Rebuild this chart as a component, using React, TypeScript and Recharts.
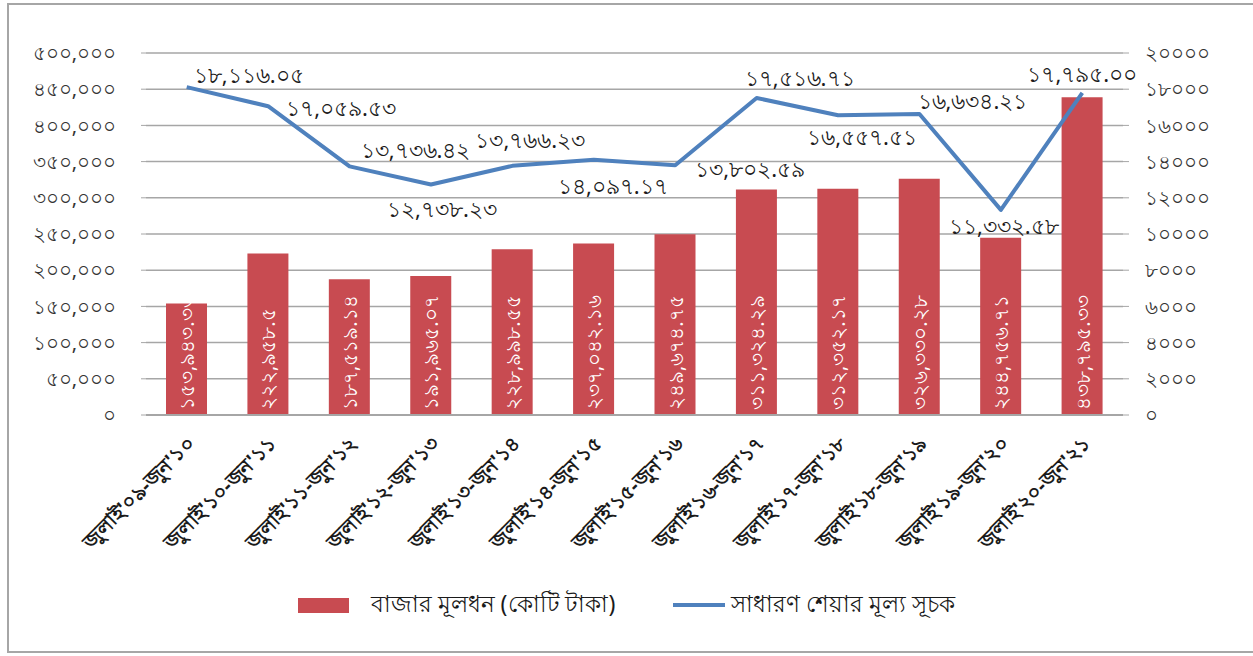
import {
  ComposedChart,
  Bar,
  Line,
  XAxis,
  YAxis,
  CartesianGrid,
  Legend,
  LabelList,
} from "recharts";

const categories = [
  "জুলাই'০৯-জুন'১০",
  "জুলাই'১০-জুন'১১",
  "জুলাই'১১-জুন'১২",
  "জুলাই'১২-জুন'১৩",
  "জুলাই'১৩-জুন'১৪",
  "জুলাই'১৪-জুন'১৫",
  "জুলাই'১৫-জুন'১৬",
  "জুলাই'১৬-জুন'১৭",
  "জুলাই'১৭-জুন'১৮",
  "জুলাই'১৮-জুন'১৯",
  "জুলাই'১৯-জুন'২০",
  "জুলাই'২০-জুন'২১",
];

// market capitalisation, crore taka (bars, left axis)
const marketCap = [
  153943.33, 222958.5, 187519.14, 191965.07, 228998.55, 237042.16,
  249674.75, 311324.29, 312352.17, 326330.28, 244756.71, 438795.33,
];

// general share price index (line, right axis)
const priceIndex = [
  18116.05, 17059.53, 13736.42, 12738.23, 13766.23, 14097.17, 13802.59,
  17516.71, 16557.51, 16634.21, 11332.58, 17795.0,
];

const leftTicks = [0, 50000, 100000, 150000, 200000, 250000, 300000, 350000, 400000, 450000, 500000];
const rightTicks = [0, 2000, 4000, 6000, 8000, 10000, 12000, 14000, 16000, 18000, 20000];

const barName = "বাজার মূলধন (কোটি টাকা)";
const lineName = "সাধারণ শেয়ার মূল্য সূচক";

// where each index label sits relative to its point
const lineLabelShift = [
  [62, -13], [73, 1], [66, -17], [11, 24], [18, -27], [19, 25],
  [75, 3], [43, -21], [24, 21], [53, -14], [3, 15], [0, -20],
];

const RED = "#C84B51";
const BLUE = "#4F81BD";
const GRID = "#A6A6A6";
const FONT = "'Noto Sans', 'DejaVu Sans', sans-serif";

const bnDigits = "০১২৩৪৫৬৭৮৯";
const toBn = (s: string) => s.replace(/\d/g, (d) => bnDigits[+d]);

const data = categories.map((name, i) => ({
  name,
  cap: marketCap[i],
  idx: priceIndex[i],
}));

function XTick(props: any) {
  const { x, y, payload } = props;
  const ax = x + 9;
  const ay = y + 22;
  return (
    <text
      x={ax}
      y={ay}
      textAnchor="end"
      fontSize={20}
      fontWeight="bold"
      fill="#1a1a1a"
      fontFamily={FONT}
      transform={`rotate(-45, ${ax}, ${ay})`}
    >
      {payload.value}
    </text>
  );
}

function BarValue(props: any) {
  const { x, y, width, height, value } = props;
  const cx = x + width / 2;
  const by = y + height - 5;
  return (
    <text
      x={cx}
      y={by}
      textAnchor="start"
      dominantBaseline="central"
      fill="#fff"
      fontSize={20}
      fontFamily={FONT}
      transform={`rotate(-90, ${cx}, ${by})`}
    >
      {toBn(Number(value).toLocaleString("en-US", { maximumFractionDigits: 2 }))}
    </text>
  );
}

function LineValue(props: any) {
  const { x, y, value, index } = props;
  const [dx, dy] = lineLabelShift[index] || [0, -15];
  return (
    <text
      x={x + dx}
      y={y + dy}
      textAnchor="middle"
      dominantBaseline="central"
      fill="#1a1a1a"
      fontSize={22}
      fontFamily={FONT}
    >
      {toBn(
        Number(value).toLocaleString("en-US", {
          minimumFractionDigits: 2,
          maximumFractionDigits: 2,
        })
      )}
    </text>
  );
}

function LegendBox() {
  return (
    <div
      style={{
        height: 60,
        display: "flex",
        alignItems: "center",
        justifyContent: "center",
        fontFamily: FONT,
        fontSize: 23,
        color: "#1a1a1a",
      }}
    >
      <span style={{ width: 51, height: 15, background: RED, display: "inline-block" }} />
      <span style={{ marginLeft: 22 }}>{barName}</span>
      <span
        style={{ width: 52, height: 4, background: BLUE, display: "inline-block", marginLeft: 58 }}
      />
      <span style={{ marginLeft: 6 }}>{lineName}</span>
    </div>
  );
}

export default function App() {
  return (
    <div style={{ position: "absolute", left: 0, top: 0, width: 1253, height: 656, background: "#fff" }}>
      <div
        style={{
          position: "absolute",
          left: 7,
          top: 3,
          width: 1260,
          height: 646,
          borderLeft: `2px solid ${GRID}`,
          borderTop: `2px solid ${GRID}`,
          borderBottom: `2px solid ${GRID}`,
        }}
      />
      <ComposedChart
        width={1253}
        height={656}
        data={data}
        margin={{ top: 53, right: 0, bottom: 0, left: 0 }}
        style={{ position: "absolute", left: 0, top: 0 }}
      >
        <CartesianGrid vertical={false} stroke={GRID} strokeWidth={1.5} yAxisId="left" />
        <XAxis
          dataKey="name"
          height={181}
          interval={0}
          tickLine={false}
          axisLine={{ stroke: GRID, strokeWidth: 2 }}
          tick={<XTick />}
        />
        <YAxis
          yAxisId="left"
          width={146}
          domain={[0, 500000]}
          ticks={leftTicks}
          interval={0}
          axisLine={false}
          tickSize={5}
          tickMargin={25}
          tickLine={{ stroke: GRID }}
          tick={{ fontSize: 20, fill: "#333", fontFamily: FONT }}
          tickFormatter={(v: number) => toBn(v.toLocaleString("en-US"))}
        />
        <YAxis
          yAxisId="right"
          orientation="right"
          width={130}
          domain={[0, 20000]}
          ticks={rightTicks}
          interval={0}
          axisLine={false}
          tickSize={6}
          tickMargin={16}
          tickLine={{ stroke: GRID }}
          tick={{ fontSize: 20, fill: "#333", fontFamily: FONT, textAnchor: "start" }}
          tickFormatter={(v: number) => toBn(String(v))}
        />
        <Legend
          verticalAlign="bottom"
          height={60}
          content={<LegendBox />}
          wrapperStyle={{ left: 0, width: 1253, top: 575 }}
        />
        <Bar yAxisId="left" dataKey="cap" name={barName} fill={RED} barSize={41} isAnimationActive={false}>
          <LabelList dataKey="cap" content={<BarValue />} />
        </Bar>
        <Line
          yAxisId="right"
          type="linear"
          dataKey="idx"
          name={lineName}
          stroke={BLUE}
          strokeWidth={4}
          strokeLinejoin="round"
          dot={false}
          activeDot={false}
          isAnimationActive={false}
        >
          <LabelList dataKey="idx" content={<LineValue />} />
        </Line>
      </ComposedChart>
    </div>
  );
}
